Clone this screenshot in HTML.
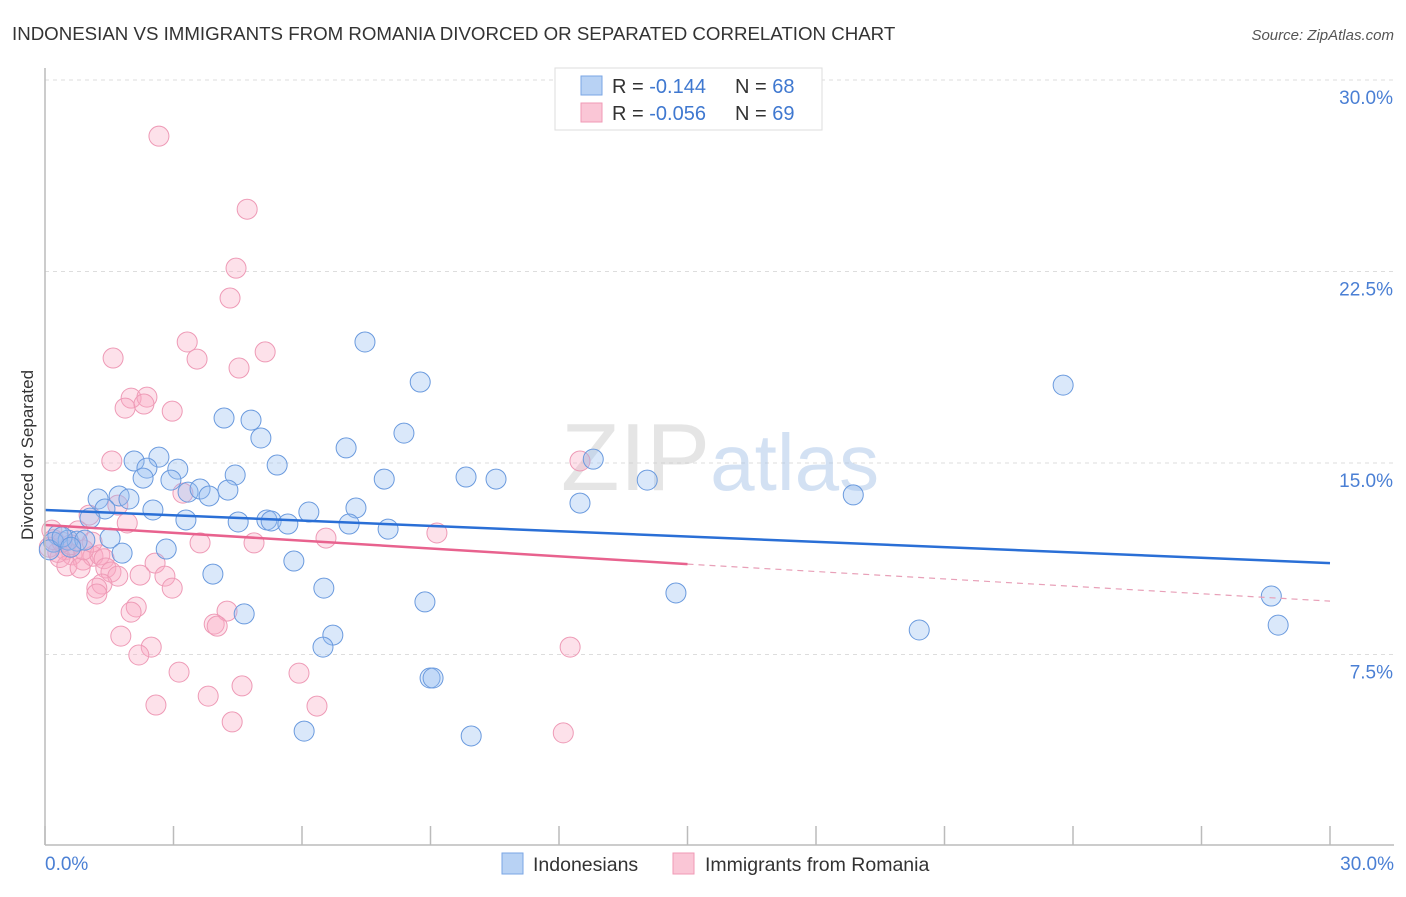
<!DOCTYPE html>
<html><head><meta charset="utf-8"><style>
body{margin:0;background:#fff;font-family:"Liberation Sans",sans-serif}
svg text{font-family:"Liberation Sans",sans-serif}
</style></head><body>
<svg id="chart" width="1406" height="892" xmlns="http://www.w3.org/2000/svg">
<text x="12" y="40" font-size="18.7" fill="#333">INDONESIAN VS IMMIGRANTS FROM ROMANIA DIVORCED OR SEPARATED CORRELATION CHART</text>
<text x="1394" y="40" font-size="15" fill="#555" text-anchor="end" font-style="italic">Source: ZipAtlas.com</text>
<g id="grid"></g>
<text x="720" y="490" font-size="96" text-anchor="middle" fill="#ccc" opacity="0.5" font-family="Liberation Serif"><tspan>ZIP</tspan><tspan fill="#a8c4e8" font-family="Liberation Sans" font-size="80">atlas</tspan></text>
<g id="points"></g>
<g id="trends"></g>
<line x1="45" y1="68" x2="45" y2="845" stroke="#bbb" stroke-width="1.5"/>
<line x1="45" y1="845" x2="1394" y2="845" stroke="#bbb" stroke-width="1.5"/>
<g id="ticks"></g>
<text transform="translate(33,455) rotate(-90)" font-size="17" fill="#333" text-anchor="middle">Divorced or Separated</text>
<text x="45" y="870" font-size="19" fill="#4a7fd4">0.0%</text>
<text x="1394" y="870" font-size="19" fill="#4a7fd4" text-anchor="end">30.0%</text>
<g>
<rect x="555" y="68" width="267" height="62" fill="#fff" stroke="#ddd"/>
<rect x="581" y="76" width="21" height="19" fill="#b8d2f4" stroke="#7aa6e4"/>
<rect x="581" y="103" width="21" height="19" fill="#fac6d6" stroke="#f09ab6"/>
<text x="612" y="93" font-size="20" fill="#333">R = <tspan fill="#3f78d0"> -0.144</tspan><tspan x="735">N = </tspan><tspan fill="#3f78d0">68</tspan></text>
<text x="612" y="120" font-size="20" fill="#333">R = <tspan fill="#3f78d0">-0.056</tspan><tspan x="735">N = </tspan><tspan fill="#3f78d0">69</tspan></text>
</g>
<g>
<rect x="502" y="853" width="21" height="21" fill="#b8d2f4" stroke="#7aa6e4"/>
<text x="533" y="871" font-size="19.5" fill="#333">Indonesians</text>
<rect x="673" y="853" width="21" height="21" fill="#fac6d6" stroke="#f09ab6"/>
<text x="705" y="871" font-size="19.5" fill="#333">Immigrants from Romania</text>
</g>
</svg>
<script>
const yTicks=[7.5,15,22.5,30];
const yTickLabels=["7.5%","15.0%","22.5%","30.0%"];
const xTicks=[0,3,6,9,12,15,18,21,24,27,30];
const blueX=[7.47,8.76,23.77,8.38,4.18,4.81,5.04,7.03,5.42,2.66,2.08,2.38,3.10,4.44,2.29,2.94,7.92,9.83,10.53,12.80,14.06,18.87,28.63,28.79,20.41,14.73,12.49,3.34,3.62,3.83,4.27,1.24,1.73,1.96,1.40,2.52,3.29,4.51,5.18,5.28,5.67,6.16,7.26,7.10,8.01,1.05,0.30,0.54,0.75,0.93,1.52,1.80,2.83,5.81,3.92,6.51,4.65,8.87,6.72,6.49,8.99,9.06,6.05,9.95,0.2,0.1,0.4,0.6];
const blueY=[19.74,18.17,18.05,16.17,16.76,16.68,15.98,15.59,14.92,15.23,15.08,14.80,14.76,14.53,14.41,14.33,14.37,14.45,14.37,15.15,14.33,13.75,9.79,8.65,8.46,9.91,13.43,13.86,13.98,13.71,13.94,13.59,13.71,13.59,13.20,13.16,12.77,12.69,12.77,12.73,12.61,13.08,13.24,12.61,12.41,12.84,12.18,11.98,11.94,11.98,12.06,11.47,11.63,11.16,10.65,10.10,9.09,9.56,8.26,7.79,6.58,6.58,4.50,4.31,11.9,11.6,12.1,11.7];
const pinkX=[2.66,4.72,4.46,4.32,3.32,5.14,1.59,3.55,4.53,2.01,2.38,1.87,2.31,2.97,1.56,12.49,3.22,1.70,1.03,1.92,9.15,6.56,3.62,4.88,0.77,0.16,0.47,0.63,0.35,0.89,1.12,1.28,1.38,2.57,0.51,0.82,1.42,1.54,1.70,2.22,2.80,2.97,1.33,1.21,1.21,2.13,2.01,4.25,3.95,4.02,1.77,2.48,2.19,12.26,3.13,5.93,4.60,3.81,2.59,6.35,4.37,12.10,0.1,0.3,0.6,0.9,0.2,1.1,0.4];
const pinkY=[27.8,24.94,22.63,21.46,19.74,19.35,19.11,19.07,18.72,17.54,17.58,17.15,17.31,17.03,15.08,15.08,13.82,13.35,12.96,12.65,12.26,12.06,11.87,11.87,12.34,12.37,11.6,11.4,11.3,11.2,11.35,11.4,11.25,11.08,10.97,10.89,10.89,10.73,10.57,10.61,10.57,10.10,10.26,10.10,9.87,9.36,9.16,9.20,8.69,8.61,8.22,7.79,7.48,7.79,6.81,6.77,6.27,5.87,5.52,5.48,4.86,4.43,11.7,11.5,11.8,11.6,12.0,11.9,11.9];
const blueTrendX=[0,30];const blueTrendY=[13.16,11.08];
const pinkTrendX=[0,15,30];const pinkTrendY=[12.57,11.04,9.59];
const NS="http://www.w3.org/2000/svg";
const xs=v=>45+v/30*1285;
const ys=v=>846-v/7.5*191.5;
function mk(tag,attrs,parent){const e=document.createElementNS(NS,tag);for(const k in attrs)e.setAttribute(k,attrs[k]);parent.appendChild(e);return e;}
const grid=document.getElementById('grid');
yTicks.forEach((t,i)=>{
  const l=mk('line',{x1:45,x2:1394,y1:ys(t),y2:ys(t),stroke:'#ddd','stroke-dasharray':'4,4'},grid);
  
  
  const tx=mk('text',{x:1393,y:ys(t)+24,'font-size':19,fill:'#4a7fd4','text-anchor':'end'},grid);
  tx.textContent=yTickLabels[i];
  
  
});
const ticks=document.getElementById('ticks');
xTicks.forEach(t=>{
  const l=mk('line',{x1:xs(t),x2:xs(t),y1:826,y2:845,stroke:'#bbb','stroke-width':1.5},ticks);
  
  
});
const pts=document.getElementById('points');
pinkX.forEach((x,i)=>{
  const c=mk('circle',{cx:xs(x),cy:ys(pinkY[i]),r:10,fill:'rgba(248,170,195,0.35)',stroke:'#ee9ab6','stroke-width':1},pts);
  
  
});
blueX.forEach((x,i)=>{
  const c=mk('circle',{cx:xs(x),cy:ys(blueY[i]),r:10,fill:'rgba(150,190,240,0.35)',stroke:'#6a9ade','stroke-width':1},pts);
  
  
});
const tr=document.getElementById('trends');
const bl=mk('line',{x1:xs(blueTrendX[0]),y1:ys(blueTrendY[0]),x2:xs(blueTrendX[1]),y2:ys(blueTrendY[1]),stroke:'#2a6fd6','stroke-width':2.5},tr);


const pl=mk('line',{x1:xs(pinkTrendX[0]),y1:ys(pinkTrendY[0]),x2:xs(pinkTrendX[1]),y2:ys(pinkTrendY[1]),stroke:'#e8628e','stroke-width':2.5},tr);


const pd=mk('line',{x1:xs(pinkTrendX[1]),y1:ys(pinkTrendY[1]),x2:xs(pinkTrendX[2]),y2:ys(pinkTrendY[2]),stroke:'#e8a0b8','stroke-width':1.2,'stroke-dasharray':'6,5'},tr);


</script>
</body></html>
